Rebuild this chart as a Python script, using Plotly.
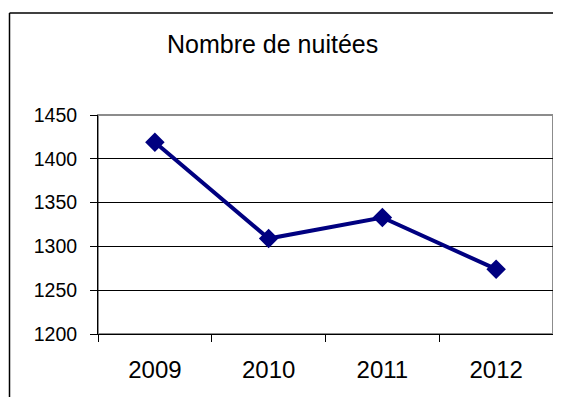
import plotly.graph_objects as go

years = ["2009", "2010", "2011", "2012"]
nuitees = [1419, 1309, 1333, 1274]
y_ticks = [1200, 1250, 1300, 1350, 1400, 1450]
title_text = "Nombre de nuitées"

# page has an 8px body margin; keep figure inside the viewport (no scrollbars)
OFF = 8
W, H = 561 - 2 * OFF, 405 - 2 * OFF
PL, PR, PT, PB = 98, 553, 115, 334  # plot area in page pixels
L, T = PL - OFF, PT - OFF
R, B = W - (PR - OFF), H - (PB - OFF)
pw, ph = PR - PL, PB - PT

def px(x):
    return (x - PL) / pw

def py(y):
    return (PB - y) / ph

fig = go.Figure()
fig.add_trace(go.Scatter(
    x=years, y=nuitees, mode="lines+markers",
    line=dict(color="#000080", width=4),
    marker=dict(symbol="diamond", size=15, color="#000080"),
    showlegend=False, cliponaxis=False,
))

fig.update_layout(
    width=W, height=H,
    margin=dict(l=L, r=R, t=T, b=B, autoexpand=False),
    paper_bgcolor="white", plot_bgcolor="white",
    font=dict(family="Liberation Sans, Arial, sans-serif", color="black"),
    xaxis=dict(
        type="category", tickson="boundaries", ticks="outside", ticklen=7,
        tickcolor="black", tickwidth=1, showgrid=False,
        showline=True, linecolor="black", linewidth=1,
        tickfont=dict(size=24), range=[-0.5, 3.5], fixedrange=True,
        ticklabelstandoff=14,
    ),
    yaxis=dict(
        range=[1200, 1450], tickvals=y_ticks, ticks="outside", ticklen=7,
        tickcolor="black", tickwidth=1, showgrid=True, gridcolor="black",
        gridwidth=1, showline=True, linecolor="black", linewidth=1,
        tickfont=dict(size=19.5), zeroline=False, ticklabelstandoff=9,
    ),
    shapes=[
        dict(type="rect", xref="paper", yref="paper", x0=0, x1=1, y0=0, y1=1,
             line=dict(color="#8c8c8c", width=2), layer="below"),
        dict(type="line", xref="paper", yref="paper",
             x0=px(9.5), x1=px(561), y0=py(13), y1=py(13),
             line=dict(color="black", width=1.5), layer="below"),
        dict(type="line", xref="paper", yref="paper",
             x0=px(9.5), x1=px(9.5), y0=py(13), y1=py(405),
             line=dict(color="black", width=1.5), layer="below"),
    ],
    annotations=[
        dict(text=title_text, xref="paper", yref="paper", x=px(272), y=py(44),
             xanchor="center", yanchor="middle", showarrow=False,
             font=dict(size=25, color="black")),
    ],
)

fig.write_html("out.html")
